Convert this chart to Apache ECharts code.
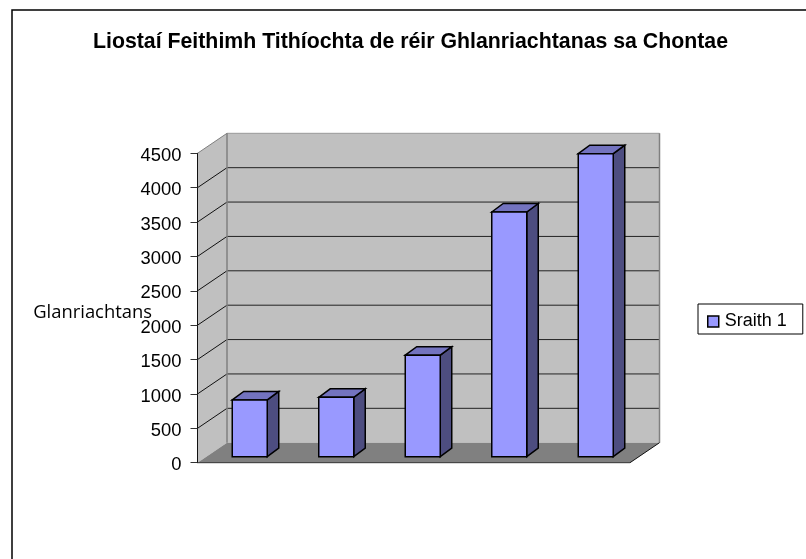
<!DOCTYPE html>
<html>
<head>
<meta charset="utf-8">
<style>
  html, body { margin: 0; padding: 0; background: #fff; }
  #chart { width: 806px; height: 559px; }
</style>
<script src="https://cdn.jsdelivr.net/npm/echarts@6/dist/echarts.min.js"></script>
</head>
<body>
<div id="chart"></div>
<script>
const categories = ['1', '2', '3', '4', '5']
const values = [825, 864, 1476, 3559, 4407]
const yTicks = [0, 500, 1000, 1500, 2000, 2500, 3000, 3500, 4000, 4500]
const seriesName = 'Sraith 1'

// 3D look: how far the back wall sits from the front of the axes (pixels)
const wallDx = 29.5
const wallDy = -20
// bars stand a bit inside the floor, and have their own depth
const barShiftX = 9
const barShiftY = -6
const barWidth = 35
const barDepthX = 11.5
const barDepthY = -8.5

const chart = echarts.init(document.getElementById('chart'), null, { renderer: 'canvas' })

const poly = (points, style) => ({ type: 'polygon', shape: { points }, style })
const line = (x1, y1, x2, y2, stroke, lineWidth) => ({
  type: 'line',
  shape: { x1, y1, x2, y2 },
  style: { stroke, lineWidth: lineWidth || 1 }
})

// walls, floor and the skewed grid lines
const renderWalls = (params, api) => {
  const left = api.coord([0, 0])[0] - api.size([1, 0])[0] / 2
  const right = left + api.size([1, 0])[0] * categories.length
  const bottom = api.coord([0, 0])[1]
  const top = api.coord([0, yTicks[yTicks.length - 1]])[1]
  const children = [
    poly([[left, top], [left + wallDx, top + wallDy], [left + wallDx, bottom + wallDy], [left, bottom]],
      { fill: '#c0c0c0' }),
    poly([[left + wallDx, top + wallDy], [right + wallDx, top + wallDy], [right + wallDx, bottom + wallDy], [left + wallDx, bottom + wallDy]],
      { fill: '#c0c0c0' }),
    poly([[left, bottom], [left + wallDx, bottom + wallDy], [right + wallDx, bottom + wallDy], [right, bottom]],
      { fill: '#808080' })
  ]
  yTicks.slice(1, -1).forEach((v) => {
    const y = api.coord([0, v])[1]
    children.push(line(left, y, left + wallDx, y + wallDy, '#111'))
    children.push(line(left + wallDx, y + wallDy, right + wallDx, y + wallDy, '#222'))
  })
  children.push(line(left, top, left + wallDx, top + wallDy, '#808080'))
  children.push(line(left + wallDx, top + wallDy, right + wallDx, top + wallDy, '#999'))
  children.push(line(left + wallDx, top + wallDy, left + wallDx, bottom + wallDy, '#808080', 1.5))
  children.push(line(right + wallDx, top + wallDy, right + wallDx, bottom + wallDy, '#808080', 1.5))
  children.push(line(left, bottom, right, bottom, '#333'))
  children.push(line(right, bottom, right + wallDx, bottom + wallDy, '#111'))
  return { type: 'group', children }
}

const renderBar = (params, api) => {
  const base = api.coord([api.value(0), 0])
  const tip = api.coord([api.value(0), api.value(1)])
  const x0 = base[0] + barShiftX - barWidth / 2
  const x1 = x0 + barWidth
  const y0 = base[1] + barShiftY
  const y1 = tip[1] + barShiftY
  const edge = { stroke: '#000', lineWidth: 1.5, lineJoin: 'miter' }
  return {
    type: 'group',
    children: [
      poly([[x1, y0], [x1 + barDepthX, y0 + barDepthY], [x1 + barDepthX, y1 + barDepthY], [x1, y1]],
        { fill: '#4d4d80', ...edge }),
      poly([[x0, y1], [x0 + barDepthX, y1 + barDepthY], [x1 + barDepthX, y1 + barDepthY], [x1, y1]],
        { fill: '#7373bf', ...edge }),
      { type: 'rect', shape: { x: x0, y: y1, width: barWidth, height: y0 - y1 }, style: { fill: '#9999ff', ...edge } }
    ]
  }
}

chart.setOption({
  animation: false,
  backgroundColor: '#fff',
  textStyle: { fontFamily: '"Liberation Sans", Arial, sans-serif', color: '#000' },
  title: {
    text: 'Liostaí Feithimh Tithíochta de réir Ghlanriachtanas sa Chontae',
    left: 405.5,
    top: 27,
    textAlign: 'center',
    textStyle: { fontSize: 21.3, fontWeight: 'bold', color: '#000', fontFamily: '"Liberation Sans", Arial, sans-serif' }
  },
  legend: {
    left: 698,
    top: 304,
    orient: 'vertical',
    padding: [8.5, 16, 3.5, 9],
    borderColor: '#000',
    borderWidth: 1,
    itemWidth: 11,
    itemHeight: 11,
    itemGap: 0,
    selectedMode: false,
    textStyle: { fontSize: 18, color: '#000', padding: [0, 0, 0, 1] },
    data: [{ name: seriesName, icon: 'rect', itemStyle: { color: '#9999ff', borderColor: '#000', borderWidth: 1.5 } }]
  },
  grid: { left: 197.5, right: 176, top: 153.3, bottom: 96.3, outerBoundsMode: 'none' },
  xAxis: {
    type: 'category',
    data: categories,
    axisLine: { show: false },
    axisTick: { show: false },
    axisLabel: { show: false }
  },
  yAxis: {
    type: 'value',
    min: 0,
    max: 4500,
    interval: 500,
    z: 5,
    name: 'Glanriachtans',
    nameLocation: 'middle',
    nameRotate: 0,
    nameGap: 45.5,
    nameMoveOverlap: false,
    // top-aligned with a short line height: nudges the text below the axis middle
    nameTextStyle: { fontFamily: '"Open Sans", sans-serif', fontSize: 18.4, color: '#000', verticalAlign: 'top', lineHeight: 9 },
    axisLine: { show: true, lineStyle: { color: '#111', width: 1 } },
    axisTick: { show: true, length: 7, lineStyle: { color: '#333', width: 1 } },
    axisLabel: { fontSize: 18.4, color: '#000', margin: 16, verticalAlign: 'top', lineHeight: 5, hideOverlap: false, formatter: (v) => String(v) },
    splitLine: { show: false }
  },
  graphic: [
    // chart frame: only its left and top edges fall inside the picture
    { type: 'rect', z: -1, shape: { x: 12, y: 10, width: 900, height: 700 }, style: { fill: 'none', stroke: '#000', lineWidth: 1.5 } }
  ],
  series: [
    { type: 'custom', name: 'walls', z: 1, silent: true, renderItem: renderWalls, data: [[0, 0]], clip: false },
    {
      type: 'custom',
      name: seriesName,
      z: 2,
      renderItem: renderBar,
      encode: { x: 0, y: 1 },
      data: values.map((v, i) => [i, v]),
      clip: false
    }
  ]
})
</script>
</body>
</html>
